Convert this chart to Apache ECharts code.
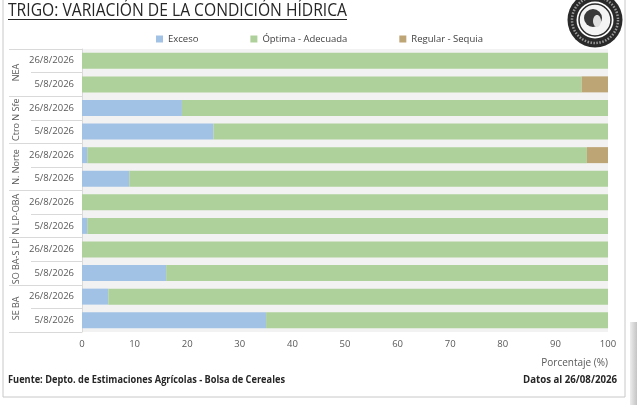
<!DOCTYPE html>
<html>
<head>
<meta charset="utf-8">
<script src="https://cdn.jsdelivr.net/npm/echarts@6/dist/echarts.min.js"></script>
<style>
  html, body { margin: 0; padding: 0; background: #fff; }
  #chart { width: 637px; height: 405px; }
</style>
</head>
<body>
<div id="chart"></div>
<script>
var regiones = ['NEA', 'Ctro N Sfe', 'N. Norte', 'N LP-OBA', 'SO BA-S LP', 'SE BA'];
var fechas = ['26/8/2026', '5/8/2026'];
var exceso  = [0, 0, 19, 25, 1, 9, 0, 1, 0, 16, 5, 35];
var optima  = [100, 95, 81, 75, 95, 91, 100, 99, 100, 84, 95, 65];
var regular = [0, 5, 0, 0, 4, 0, 0, 0, 0, 0, 0, 0];
var ticksX = [0, 10, 20, 30, 40, 50, 60, 70, 80, 90, 100];

var FONT = "'Open Sans', sans-serif";
var TITULO = 'TRIGO: VARIACIÓN DE LA CONDICIÓN HÍDRICA';
var FUENTE = 'Fuente: Depto. de Estimaciones Agrícolas - Bolsa de Cereales';
var DATOS = 'Datos al 26/08/2026';

// categorias: region|fecha
var categorias = [];
regiones.forEach(function (r) {
  fechas.forEach(function (f) { categorias.push(r + '|' + f); });
});

// ancho de texto para comprimir al ancho del original
var ctx = document.createElement('canvas').getContext('2d');
function ancho(txt, font) { ctx.font = font; return ctx.measureText(txt).width; }
var escTitulo = 339 / ancho(TITULO, "18px 'Open Sans'");
var escFuente = 277 / ancho(FUENTE, "bold 10px 'Open Sans'");
var escDatos = 94 / ancho(DATOS, "bold 10px 'Open Sans'");

var myChart = echarts.init(document.getElementById('chart'));

var option = {
  animation: false,
  textStyle: { fontFamily: FONT },
  color: ['#a2c2e5', '#aed09a', '#bea576'],
  legend: {
    left: 151,
    top: 29,
    icon: 'rect',
    itemWidth: 7,
    itemHeight: 7,
    itemGap: 52,
    textStyle: { fontSize: 9.5, color: '#404040', fontFamily: FONT },
    data: ['Exceso', 'Óptima - Adecuada', 'Regular - Sequia']
  },
  grid: {
    left: 82, right: 29, top: 49, bottom: 73,
    show: true, backgroundColor: '#f2f2f2', borderWidth: 0
  },
  xAxis: {
    type: 'value',
    min: ticksX[0],
    max: ticksX[ticksX.length - 1],
    interval: 10,
    axisLine: { show: false },
    axisTick: { show: false },
    splitLine: { show: false },
    axisLabel: { color: '#595959', fontSize: 9.5, margin: 7, fontFamily: FONT }
  },
  yAxis: [
    {
      type: 'category',
      inverse: true,
      data: categorias,
      axisLine: { show: true, lineStyle: { color: '#d9d9d9' } },
      axisTick: { show: true, interval: 0, length: 51, lineStyle: { color: '#d9d9d9' } },
      axisLabel: {
        color: '#595959', fontSize: 9.5, margin: 8, interval: 0, fontFamily: FONT,
        formatter: function (v) { return v.split('|')[1]; }
      }
    },
    {
      type: 'category',
      inverse: true,
      position: 'left',
      data: regiones,
      axisLine: { show: false },
      axisTick: { show: true, interval: 0, length: 73, lineStyle: { color: '#d9d9d9' } },
      axisLabel: { color: '#595959', fontSize: 9, rotate: 90, margin: 61, interval: 0, fontFamily: FONT }
    }
  ],
  series: [
    { name: 'Exceso', type: 'bar', stack: 'total', barWidth: 16, data: exceso },
    { name: 'Óptima - Adecuada', type: 'bar', stack: 'total', barWidth: 16, data: optima },
    { name: 'Regular - Sequia', type: 'bar', stack: 'total', barWidth: 16, data: regular }
  ],
  graphic: [
    // marco
    { type: 'rect', shape: { x: 3, y: -2, width: 622, height: 399 },
      style: { fill: 'none', stroke: '#c8c8c8', lineWidth: 1 }, z: -1 },
    // sombra borde derecho
    { type: 'rect', shape: { x: 630, y: 322, width: 7, height: 83 },
      style: { fill: new echarts.graphic.LinearGradient(0, 0, 1, 0, [
        { offset: 0, color: '#ededed' }, { offset: 1, color: '#c4c4c4' }]) } },
    // titulo
    { type: 'text', x: 8, y: 2, scaleX: escTitulo,
      style: { text: TITULO, fontSize: 18, fill: '#262626', fontFamily: FONT } },
    { type: 'line', shape: { x1: 8, y1: 19.5, x2: 347, y2: 19.5 },
      style: { stroke: '#262626', lineWidth: 1 } },
    // logo
    { type: 'circle', shape: { cx: 595, cy: 20, r: 27.5 }, style: { fill: '#2a2a2a' } },
    { type: 'circle', shape: { cx: 595, cy: 20, r: 23 },
      style: { fill: 'none', stroke: '#9a9a9a', lineWidth: 2.5, lineDash: [1.5, 1.5] } },
    { type: 'circle', shape: { cx: 595, cy: 20, r: 18.5 }, style: { fill: '#fff' } },
    { type: 'circle', shape: { cx: 595, cy: 20, r: 16 },
      style: { fill: '#f4f4f4', stroke: '#2a2a2a', lineWidth: 1.5 } },
    { type: 'circle', shape: { cx: 593, cy: 18, r: 9 }, style: { fill: '#3a3a3a' } },
    { type: 'ellipse', shape: { cx: 597, cy: 21, rx: 4, ry: 6 }, style: { fill: '#e0e0e0' } },
    // nombre eje
    { type: 'text', x: 608, y: 358,
      style: { text: 'Porcentaje (%)', fontSize: 10, fill: '#595959', align: 'right', fontFamily: FONT } },
    // pie
    { type: 'text', x: 8, y: 375, scaleX: escFuente,
      style: { text: FUENTE, fontSize: 10, fontWeight: 'bold', fill: '#262626', fontFamily: FONT } },
    { type: 'text', x: 617, y: 375, scaleX: escDatos,
      style: { text: DATOS, fontSize: 10, fontWeight: 'bold', fill: '#262626',
        align: 'right', fontFamily: FONT } }
  ]
};

myChart.setOption(option);
</script>
</body>
</html>
